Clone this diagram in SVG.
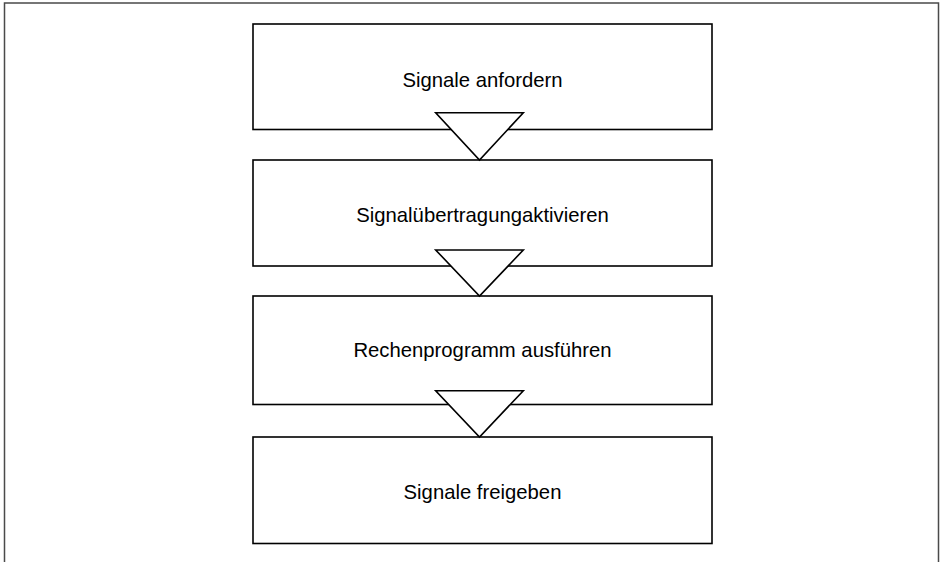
<svg xmlns="http://www.w3.org/2000/svg" width="942" height="562" viewBox="0 0 942 562">
  <style>
    .frame { fill: none; stroke: #4a4a4a; stroke-width: 1.5; }
    .box { fill: #ffffff; stroke: #000000; stroke-width: 1.6; }
    .tri { fill: #ffffff; stroke: #000000; stroke-width: 1.6; stroke-linejoin: miter; }
    .label { font-family: "Liberation Sans", Arial, sans-serif; font-size: 20.3px; fill: #000000; text-anchor: middle; }
  </style>
  <rect width="942" height="562" fill="#ffffff"/>
  <!-- outer frame, open at the bottom -->
  <path class="frame" d="M4.5,562 V3 H938.5 V562"/>

  <g id="step1">
    <rect class="box" x="253" y="24" width="459" height="105.5"/>
    <text class="label" x="482.5" y="86.5">Signale anfordern</text>
  </g>
  <g id="step2">
    <rect class="box" x="253" y="160" width="459" height="106"/>
    <text class="label" x="482.5" y="221.5">Signalübertragungaktivieren</text>
  </g>
  <g id="step3">
    <rect class="box" x="253" y="296" width="459" height="108.5"/>
    <text class="label" x="482.5" y="357">Rechenprogramm ausführen</text>
  </g>
  <g id="step4">
    <rect class="box" x="253" y="437" width="459" height="106.5"/>
    <text class="label" x="482.5" y="499">Signale freigeben</text>
  </g>

  <g id="connectors">
    <polygon class="tri" points="435.7,112.7 523.3,112.7 479.5,160"/>
    <polygon class="tri" points="435.7,250 523.3,250 479.5,296"/>
    <polygon class="tri" points="435.7,390.7 523.3,390.7 479.5,437"/>
  </g>
</svg>
